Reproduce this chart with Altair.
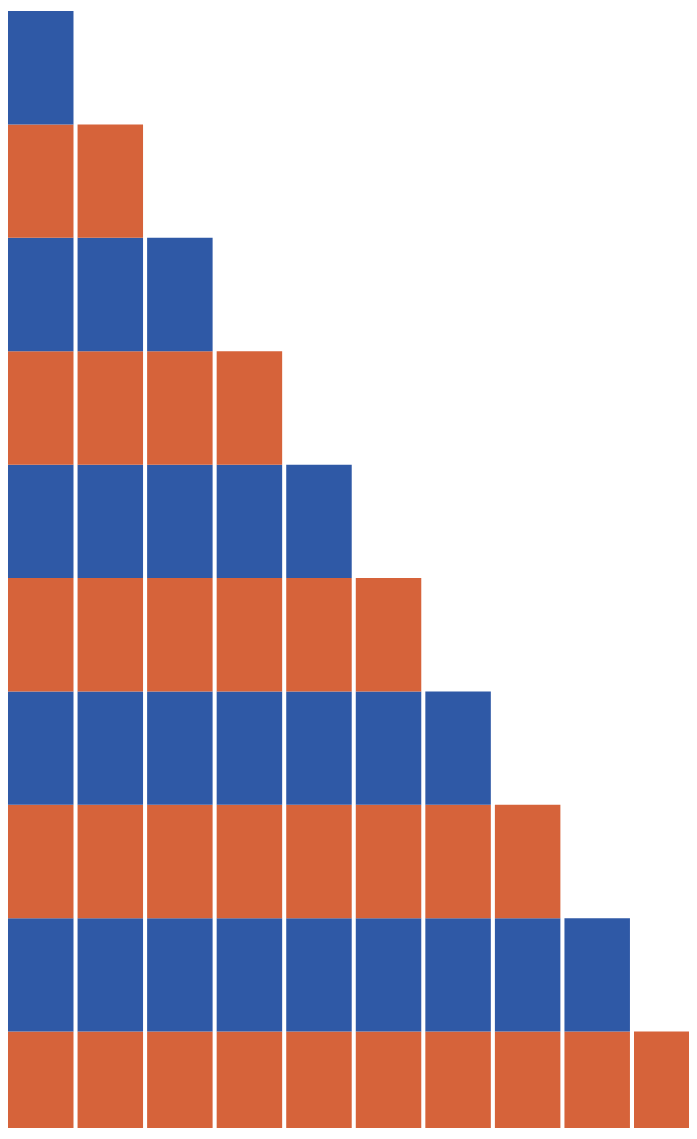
import altair as alt
import pandas as pd

columns = ["1", "2", "3", "4", "5", "6", "7", "8", "9", "10"]
counts = [10, 9, 8, 7, 6, 5, 4, 3, 2, 1]
segment_value = 1
groups = ["even", "odd"]
colors = ["#d6633a", "#2f59a6"]

rows = []
for col, n in zip(columns, counts):
    for level in range(n):
        rows.append({"col": col, "level": level, "value": segment_value,
                     "group": groups[level % 2]})
df = pd.DataFrame(rows)

chart = alt.Chart(df).mark_bar(clip=True).encode(
    x=alt.X("col:N", sort=columns, axis=None,
            scale=alt.Scale(paddingInner=0.0584, paddingOuter=0, range=[0, 691.5])),
    y=alt.Y("sum(value):Q", axis=None, stack="zero",
            scale=alt.Scale(domain=[0.150, 10.027], nice=False, zero=False)),
    color=alt.Color("group:N", legend=None,
                    scale=alt.Scale(domain=groups, range=colors)),
    order=alt.Order("level:Q", sort="ascending"),
).properties(
    width=681, height=1120, padding=0
).configure_view(stroke=None)

chart.save("out.html", embed_options={"renderer": "svg", "actions": False})
